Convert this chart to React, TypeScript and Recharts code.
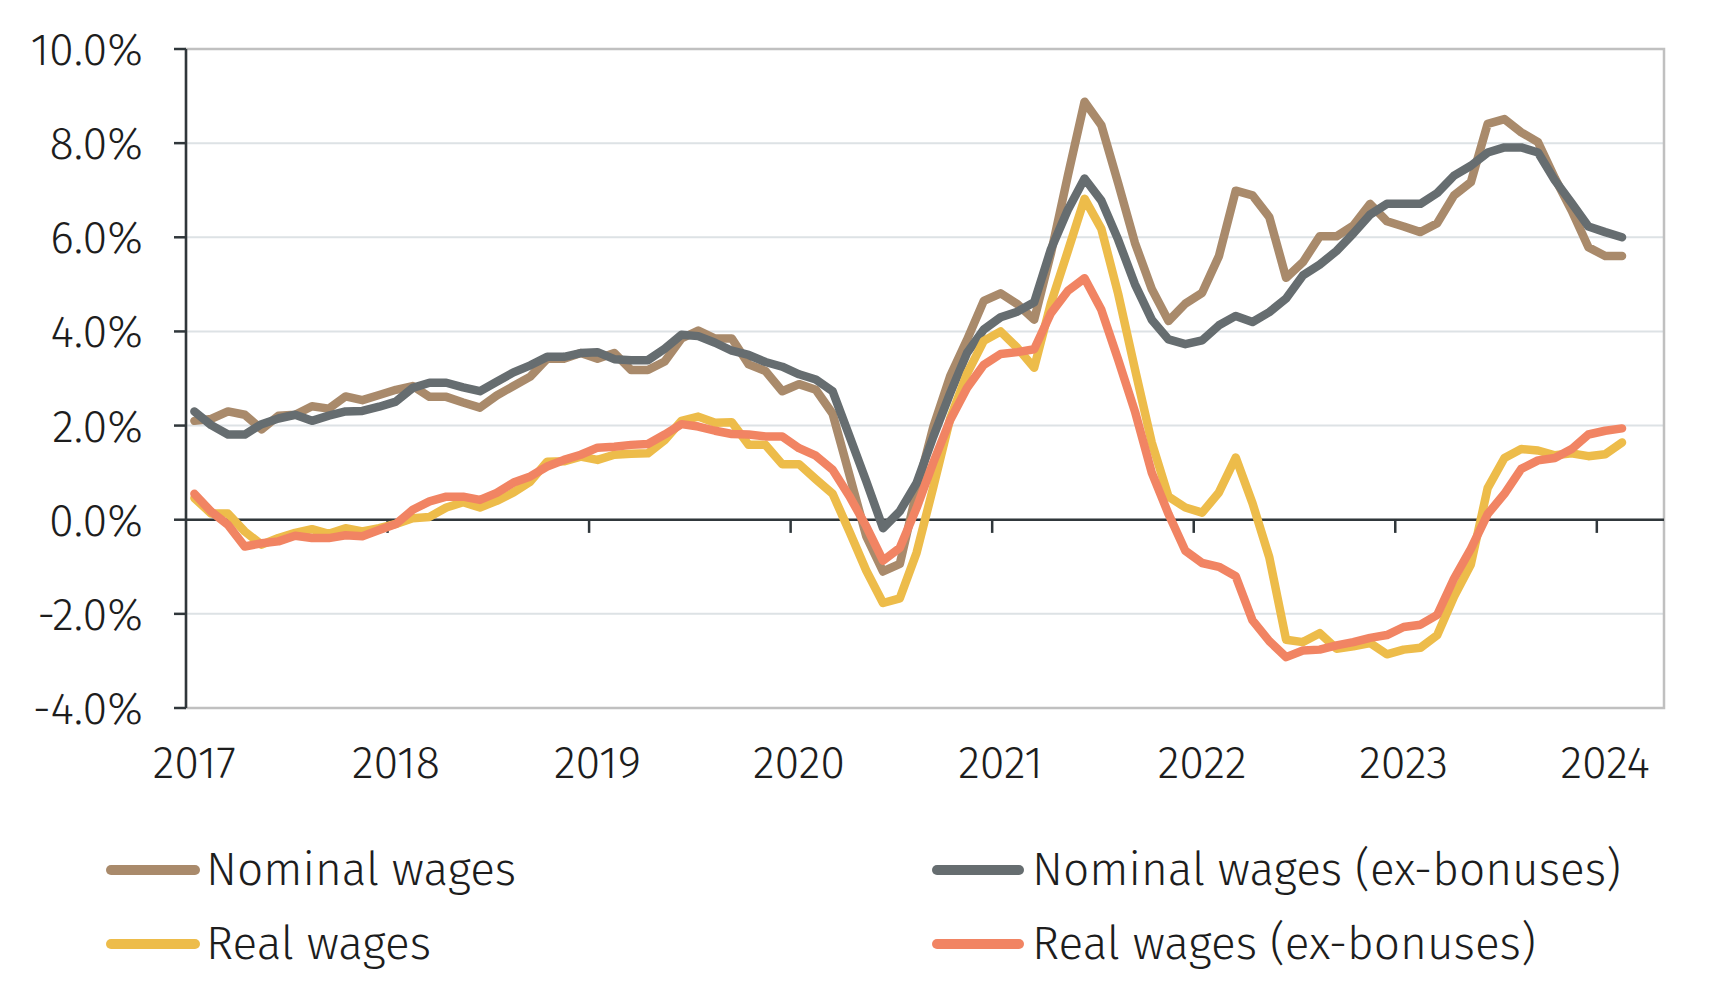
import React from 'react';
import {
  LineChart,
  Line,
  XAxis,
  YAxis,
  CartesianGrid,
  ReferenceLine,
  ReferenceArea,
  Legend,
} from 'recharts';

// Annual wage growth, monthly observations from Jan 2017 to Feb 2024 (%)
const FIRST_YEAR = 2017;
const yearLabels = ['2017', '2018', '2019', '2020', '2021', '2022', '2023', '2024'];
const SLOT_COUNT = 88; // monthly slots on the time axis (Jan 2017 – Apr 2024)

const nominalWages = [
  2.10, 2.14, 2.30, 2.23, 1.92, 2.21, 2.23, 2.41, 2.36, 2.62, 2.54, 2.65,
  2.76, 2.84, 2.61, 2.61, 2.49, 2.38, 2.64, 2.84, 3.04, 3.42, 3.42, 3.54,
  3.42, 3.54, 3.18, 3.18, 3.36, 3.85, 4.02, 3.85, 3.85, 3.30, 3.16, 2.73,
  2.88, 2.76, 2.25, 0.95, -0.35, -1.10, -0.94, 0.60, 1.98, 3.05, 3.82, 4.65,
  4.81, 4.58, 4.25, 5.66, 7.30, 8.88, 8.38, 7.15, 5.88, 4.90, 4.22, 4.59,
  4.82, 5.60, 6.99, 6.89, 6.43, 5.14, 5.47, 6.02, 6.02, 6.25, 6.71, 6.34,
  6.23, 6.11, 6.30, 6.89, 7.17, 8.41, 8.51, 8.23, 8.02, 7.26, 6.57, 5.79,
  5.60, 5.60,
];

const nominalWagesExBonus = [
  2.30, 2.01, 1.81, 1.81, 2.03, 2.15, 2.23, 2.10, 2.21, 2.30, 2.31, 2.40,
  2.51, 2.80, 2.91, 2.91, 2.81, 2.73, 2.93, 3.13, 3.28, 3.46, 3.46, 3.54,
  3.56, 3.41, 3.39, 3.39, 3.63, 3.93, 3.90, 3.76, 3.59, 3.50, 3.35, 3.25,
  3.09, 2.98, 2.73, 1.78, 0.82, -0.18, 0.18, 0.78, 1.77, 2.69, 3.54, 4.04,
  4.30, 4.42, 4.62, 5.75, 6.58, 7.25, 6.78, 5.95, 5.00, 4.25, 3.83, 3.73,
  3.81, 4.13, 4.33, 4.20, 4.41, 4.70, 5.19, 5.42, 5.71, 6.08, 6.48, 6.71,
  6.71, 6.71, 6.94, 7.31, 7.52, 7.80, 7.91, 7.91, 7.80, 7.21, 6.73, 6.23,
  6.11, 6.00,
];

const realWages = [
  0.46, 0.13, 0.13, -0.25, -0.53, -0.39, -0.28, -0.20, -0.30, -0.18, -0.25, -0.18,
  -0.09, 0.03, 0.06, 0.26, 0.37, 0.26, 0.40, 0.58, 0.81, 1.23, 1.24, 1.34,
  1.27, 1.38, 1.40, 1.41, 1.69, 2.10, 2.19, 2.06, 2.07, 1.59, 1.59, 1.18,
  1.18, 0.86, 0.55, -0.25, -1.08, -1.77, -1.67, -0.70, 0.70, 2.15, 3.10, 3.80,
  4.00, 3.65, 3.23, 4.60, 5.70, 6.82, 6.18, 4.80, 3.20, 1.64, 0.49, 0.26,
  0.15, 0.58, 1.32, 0.35, -0.80, -2.55, -2.60, -2.41, -2.74, -2.69, -2.62, -2.86,
  -2.76, -2.72, -2.45, -1.63, -0.95, 0.67, 1.31, 1.50, 1.47, 1.37, 1.41, 1.35,
  1.39, 1.64,
];

const realWagesExBonus = [
  0.55, 0.17, -0.11, -0.57, -0.50, -0.46, -0.34, -0.39, -0.39, -0.33, -0.35, -0.22,
  -0.09, 0.21, 0.39, 0.49, 0.49, 0.42, 0.57, 0.79, 0.92, 1.13, 1.27, 1.38,
  1.53, 1.55, 1.59, 1.61, 1.81, 2.03, 1.98, 1.89, 1.82, 1.81, 1.77, 1.77,
  1.52, 1.36, 1.06, 0.50, -0.14, -0.87, -0.60, 0.25, 1.22, 2.12, 2.80, 3.29,
  3.52, 3.56, 3.62, 4.39, 4.86, 5.13, 4.46, 3.40, 2.30, 1.00, 0.12, -0.66,
  -0.92, -1.00, -1.20, -2.14, -2.58, -2.92, -2.78, -2.76, -2.67, -2.60, -2.51, -2.45,
  -2.28, -2.23, -2.02, -1.25, -0.62, 0.12, 0.55, 1.08, 1.26, 1.31, 1.50, 1.81,
  1.89, 1.94,
];

const yTicks = [-4, -2, 0, 2, 4, 6, 8, 10];

const series = [
  { key: 'nominal', name: 'Nominal wages', color: '#A98A6B', values: nominalWages },
  { key: 'nominalEx', name: 'Nominal wages (ex-bonuses)', color: '#666D70', values: nominalWagesExBonus },
  { key: 'real', name: 'Real wages', color: '#EDBC4A', values: realWages },
  { key: 'realEx', name: 'Real wages (ex-bonuses)', color: '#F18463', values: realWagesExBonus },
];

const months = nominalWages.map(
  (_, i) => `${FIRST_YEAR + Math.floor(i / 12)}-${String((i % 12) + 1).padStart(2, '0')}`
);

const rows = months.map((month, i) => {
  const row: Record<string, number | string> = { idx: i, month };
  series.forEach((s) => {
    row[s.key] = s.values[i];
  });
  return row;
});

// January of each year carries the year label; tick marks sit on the Dec/Jan boundary
const labelPositions = yearLabels.map((_, k) => k * 12);
const boundaryPositions = yearLabels.slice(1).map((_, k) => (k + 1) * 12 - 0.5);

const FONT = "'Fira Sans', 'Open Sans', sans-serif";
const TEXT = '#1d1d1d';
const AXIS = '#30373b';
const GRID = '#dde2e5';
const FRAME = '#c0c0c0';

const WIDTH = 1714;
const HEIGHT = 1007;

const LegendBlock = () => {
  const rowsY = [869, 943];
  const cols = [
    { swatch: [111, 195], text: 206 },
    { swatch: [937, 1019], text: 1032 },
  ];
  return (
    <svg width={WIDTH} height={HEIGHT} style={{ display: 'block' }}>
      {series.map((s, i) => {
        const col = cols[i % 2];
        const y = rowsY[Math.floor(i / 2)];
        return (
          <g key={s.key}>
            <line
              x1={col.swatch[0]}
              x2={col.swatch[1]}
              y1={y + 1}
              y2={y + 1}
              stroke={s.color}
              strokeWidth={10}
              strokeLinecap="round"
            />
            <text
              x={col.text}
              y={y + 16}
              fontFamily={FONT}
              fontSize={46}
              fontWeight={300}
              fill={TEXT}
            >
              {s.name}
            </text>
          </g>
        );
      })}
    </svg>
  );
};

export default function App() {
  return (
    <div style={{ position: 'absolute', left: 0, top: 0, width: WIDTH, height: HEIGHT, background: '#fff' }}>
      <LineChart
        width={WIDTH}
        height={HEIGHT}
        data={rows}
        margin={{ top: 49, right: 50, bottom: 219, left: 0 }}
      >
        <CartesianGrid vertical={false} stroke={GRID} strokeWidth={2} />
        <ReferenceArea
          x1={-0.5}
          x2={SLOT_COUNT - 0.5}
          y1={-4}
          y2={10}
          fill="none"
          stroke={FRAME}
          strokeWidth={2.5}
          fillOpacity={0}
        />
        <XAxis
          type="number"
          dataKey="idx"
          domain={[-0.5, SLOT_COUNT - 0.5]}
          ticks={labelPositions}
          interval={0}
          tickFormatter={(v: number) => yearLabels[Math.round(v / 12)]}
          axisLine={false}
          tickLine={false}
          tickSize={0}
          tickMargin={38}
          height={80}
          tick={{ fill: TEXT, fontSize: 45, fontFamily: FONT, fontWeight: 300 }}
        />
        <YAxis
          type="number"
          domain={[-4, 10]}
          ticks={yTicks}
          interval={0}
          width={186}
          tickSize={12}
          tickMargin={31}
          tickFormatter={(v: number) => `${v.toFixed(1)}%`}
          axisLine={{ stroke: AXIS, strokeWidth: 2.5 }}
          tickLine={{ stroke: AXIS, strokeWidth: 2.5 }}
          tick={{ fill: TEXT, fontSize: 45, fontFamily: FONT, fontWeight: 300 }}
        />
        <ReferenceLine y={0} stroke={AXIS} strokeWidth={2.5} />
        {boundaryPositions.map((b) => (
          <ReferenceLine
            key={b}
            segment={[
              { x: b, y: 0 },
              { x: b, y: -0.28 },
            ]}
            stroke={AXIS}
            strokeWidth={2.5}
          />
        ))}
        {series.map((s) => (
          <Line
            key={s.key}
            type="linear"
            dataKey={s.key}
            name={s.name}
            stroke={s.color}
            strokeWidth={8.5}
            strokeLinecap="round"
            strokeLinejoin="round"
            dot={false}
            activeDot={false}
            isAnimationActive={false}
          />
        ))}
        <Legend
          layout="horizontal"
          verticalAlign="middle"
          align="center"
          wrapperStyle={{ position: 'absolute', left: 0, top: 0, width: WIDTH, height: HEIGHT, pointerEvents: 'none' }}
          content={() => <LegendBlock />}
        />
      </LineChart>
    </div>
  );
}
